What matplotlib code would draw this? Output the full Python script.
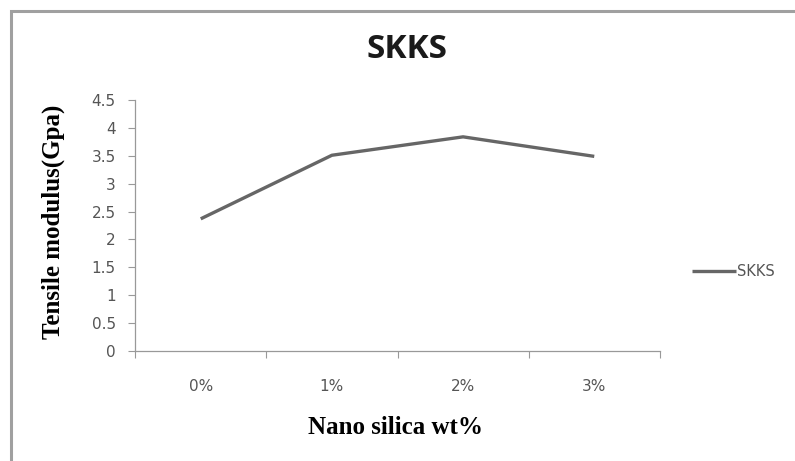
import matplotlib
matplotlib.use("Agg")
import matplotlib.pyplot as plt
from matplotlib.patches import Rectangle
import numpy as np

# === Данни ===
categories = ["0%", "1%", "2%", "3%"]
skks = [2.37, 3.51, 3.84, 3.49]
yticks = [0, 0.5, 1, 1.5, 2, 2.5, 3, 3.5, 4, 4.5]

fig = plt.figure(figsize=(7.95, 4.61), dpi=100)
ax = fig.add_axes([0.170, 0.2386, 0.660, 0.5444])

x = np.arange(len(categories))
line, = ax.plot(x, skks, color="#666666", linewidth=2.4, solid_capstyle="butt")

ax.set_xlim(-0.5, len(categories) - 0.5)
ax.set_ylim(0, 4.5)
ax.set_yticks(yticks)
ax.set_yticklabels([f"{v:g}" for v in yticks])

# категорийни етикети в центъра, чертички между тях
ax.set_xticks(np.arange(-0.5, len(categories), 1.0))
ax.set_xticklabels([])
ax.set_xticks(x, minor=True)
ax.set_xticklabels(categories, minor=True)
ax.tick_params(axis="x", which="minor", length=0, pad=20)
ax.tick_params(axis="x", which="major", length=5, color="#999999", direction="out")
ax.tick_params(axis="y", length=5, color="#999999", direction="out", pad=9)
ax.tick_params(labelsize=11, labelcolor="#555555")
for lbl in ax.get_xticklabels(minor=True):
    lbl.set_fontsize(11)
    lbl.set_color("#555555")

for s in ["top", "right"]:
    ax.spines[s].set_visible(False)
for s in ["left", "bottom"]:
    ax.spines[s].set_color("#999999")
    ax.spines[s].set_linewidth(0.9)

fig.text(407 / 795, 1 - 50 / 461, "SKKS", fontsize=24, fontweight="bold",
         family="Open Sans", ha="center", va="center", color="#1a1a1a")
fig.text(396 / 795, 1 - 427 / 461, "Nano silica wt%", fontsize=18,
         fontweight="bold", family="Liberation Serif", ha="center", va="center")
fig.text(53 / 795, 1 - 222 / 461, "Tensile modulus(Gpa)", fontsize=18,
         fontweight="bold", family="Liberation Serif", ha="center", va="center",
         rotation=90)

ax.legend([line], ["SKKS"], loc="center left",
          bbox_to_anchor=(692 / 795, 1 - 272 / 461),
          bbox_transform=fig.transFigure, borderpad=0, borderaxespad=0,
          frameon=False, fontsize=10.5, handlelength=3.0, handletextpad=0.1,
          labelcolor="#555555")

# рамка около графиката
fig.patches.append(Rectangle((11 / 795, -0.01), 1.0, (461 - 11) / 461 + 0.01,
                             transform=fig.transFigure, fill=False,
                             edgecolor="#a0a0a0", linewidth=2.2))

fig.savefig("out.png", dpi=100)
